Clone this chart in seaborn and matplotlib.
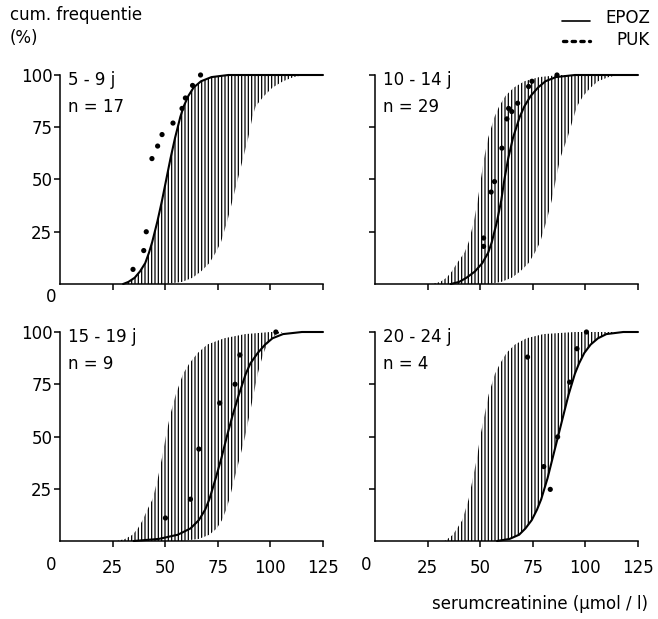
import matplotlib
matplotlib.use('Agg')
import matplotlib.pyplot as plt
from matplotlib.lines import Line2D
import seaborn as sns

pct = [0, 1, 3, 6, 10, 15, 20, 30, 40, 50, 60, 70, 80, 85, 90, 94, 97, 99, 100]

# serumcreatinine (umol/l) reached at those percentages
epoz_5_9 = [30, 32.5, 35.5, 38, 40.5, 42.3, 43.8, 46.3, 48.5, 50.5, 52.5, 54.7, 57.2, 58.8, 61, 63.5, 67, 72, 80]
band_hi_5_9 = [50, 58, 63, 67, 71, 74, 76.5, 79.5, 82, 84.5, 87, 89.5, 91.5, 93, 97, 101, 106, 111, 116]

epoz_10_14 = [36, 40, 43.5, 47.5, 51, 53.8, 55.5, 58, 60, 61.5, 63.3, 65.6, 68.8, 71, 74, 77.5, 81, 86, 95]
band_lo_10_14 = [27, 31, 34, 36.5, 39, 42.5, 44.5, 47, 48.8, 50.3, 51.8, 53.8, 56.8, 59, 62, 66, 71, 78, 88]
band_hi_10_14 = [54, 60, 65, 69, 73, 76, 78.5, 81.5, 84, 86, 88, 91.5, 94.5, 96, 99, 102.5, 106, 111, 116]

epoz_15_19 = [35, 47, 56, 62, 66, 69, 71, 74, 76.8, 79.3, 82, 85, 88.3, 90.5, 94, 97.5, 101, 106, 115]
band_lo_15_19 = [27, 31, 34.5, 37, 39.3, 41.5, 44, 46.5, 48.5, 50.3, 52.3, 55, 58.5, 61.5, 65.5, 70, 78, 88, 100]
band_hi_15_19 = [58, 66, 71, 74.5, 77, 79, 80.5, 83, 85.5, 88, 90, 92, 94, 95.3, 96.8, 98.5, 100.5, 103, 106]

epoz_20_24 = [58, 64, 68.5, 71.5, 74.5, 77, 79, 82, 84.5, 87, 89.5, 92, 95, 97, 99.5, 102.5, 106, 110, 118]
band_lo_20_24 = [33, 34.5, 37, 39, 41.5, 43, 44.5, 46.5, 48.5, 50, 52, 54, 57, 59.5, 62.5, 66.5, 72, 80, 95]

# PUK observations
puk_x_5_9 = [34.7, 39.8, 41, 43.7, 46.4, 48.5, 53.7, 58, 59.6, 63, 66.8]
puk_y_5_9 = [7, 16, 25, 60, 66, 71.5, 77, 84, 89, 95, 100]
puk_x_10_14 = [51.6, 51.6, 55.2, 56.8, 60.3, 62.7, 63.5, 65.0, 67.8, 73.0, 74.6, 86.5]
puk_y_10_14 = [18, 22, 44, 49, 65, 79, 84, 82.5, 86.5, 94.5, 97, 100]
puk_x_15_19 = [50.1, 62, 66, 75.9, 83.2, 85.5, 102.6]
puk_y_15_19 = [11, 20, 44, 66, 75, 89, 100]
puk_x_20_24 = [72.5, 80.2, 83.3, 86.8, 92.5, 96, 100.5]
puk_y_20_24 = [88, 35.6, 24.7, 49.8, 76, 92, 100]

groups = ['5 - 9 j', '10 - 14 j', '15 - 19 j', '20 - 24 j']
counts = ['n = 17', 'n = 29', 'n = 9', 'n = 4']
x_ticks = [25, 50, 75, 100, 125]
y_ticks = [25, 50, 75, 100]

sns.set_style('ticks')
plt.rcParams['font.family'] = ['DejaVu Sans']
plt.rcParams['text.color'] = 'black'
plt.rcParams['hatch.linewidth'] = 0.9
plt.rcParams['axes.linewidth'] = 1.1
plt.rcParams['axes.edgecolor'] = 'black'

fig = plt.figure(figsize=(6.58, 6.19), dpi=100)

W, H = 658, 619
pw, ph = 263 / W, 209 / H
boxes = [
    [60 / W, 1 - 284 / H, pw, ph],
    [375 / W, 1 - 284 / H, pw, ph],
    [60 / W, 1 - 541 / H, pw, ph],
    [375 / W, 1 - 541 / H, pw, ph],
]

panels = [
    (epoz_5_9, epoz_5_9, band_hi_5_9, puk_x_5_9, puk_y_5_9),
    (epoz_10_14, band_lo_10_14, band_hi_10_14, puk_x_10_14, puk_y_10_14),
    (epoz_15_19, band_lo_15_19, band_hi_15_19, puk_x_15_19, puk_y_15_19),
    (epoz_20_24, band_lo_20_24, epoz_20_24, puk_x_20_24, puk_y_20_24),
]

for i, (epoz, lo, hi, px, py) in enumerate(panels):
    ax = fig.add_axes(boxes[i])
    # hatched band
    ax.fill_betweenx(pct, lo, hi, facecolor='none', edgecolor='black',
                     linewidth=0, hatch='|||||', clip_on=False)
    # EPOZ curve, running on flat to the end of the axis
    sns.lineplot(x=epoz + [125], y=pct + [100], sort=False, estimator=None,
                 color='black', linewidth=1.5, ax=ax, clip_on=False)
    # PUK points
    sns.scatterplot(x=px, y=py, color='black', s=14, edgecolor='none',
                    ax=ax, clip_on=False)

    ax.set_xlim(0, 125)
    ax.set_ylim(0, 100)
    ax.set_xlabel('')
    ax.set_ylabel('')
    sns.despine(ax=ax)
    ax.set_xticks(x_ticks)
    ax.set_yticks(y_ticks)
    left = i % 2 == 0
    bottom = i >= 2
    ax.set_yticklabels([str(t) for t in y_ticks] if left else [])
    ax.set_xticklabels([str(t) for t in x_ticks] if bottom else [])
    ax.tick_params(axis='both', direction='out', length=4, width=1.1,
                   labelsize=12, colors='black')
    ax.tick_params(axis='y', pad=1.5)
    ax.tick_params(axis='x', pad=9)

    ax.text(0.03, 1.02, groups[i], transform=ax.transAxes, ha='left',
            va='top', fontsize=12)
    ax.text(0.03, 0.89, counts[i], transform=ax.transAxes, ha='left',
            va='top', fontsize=12)
    if bottom:
        ax.text(-4, -11.5, '0', ha='center', va='center', fontsize=12,
                clip_on=False)
    elif left:
        ax.text(-4, -6, '0', ha='center', va='center', fontsize=12,
                clip_on=False)

fig.text(10 / W, 1 - 6 / H, 'cum. frequentie', ha='left', va='top', fontsize=12)
fig.text(10 / W, 1 - 29 / H, '(%)', ha='left', va='top', fontsize=12)

# legend
fig.add_artist(Line2D([562 / W, 590 / W], [1 - 21 / H, 1 - 21 / H],
                      color='black', linewidth=1.2))
fig.text(650 / W, 1 - 18 / H, 'EPOZ', ha='right', va='center', fontsize=12)
fig.add_artist(Line2D([563 / W, 590 / W], [1 - 41 / H, 1 - 41 / H],
                      color='black', linewidth=2.4, linestyle=(0, (1, 1.6)),
                      dash_capstyle='round'))
fig.text(650 / W, 1 - 40 / H, 'PUK', ha='right', va='center', fontsize=12)

fig.text(648 / W, 1 - 604 / H, 'serumcreatinine (µmol / l)', ha='right',
         va='center', fontsize=12)

fig.savefig('out.png', dpi=100)
